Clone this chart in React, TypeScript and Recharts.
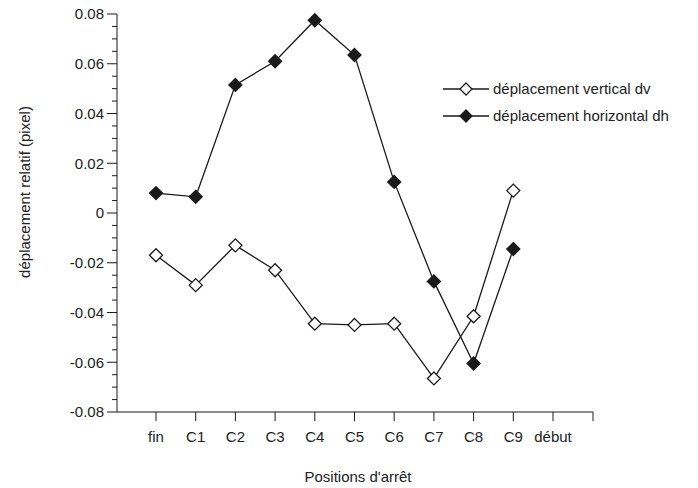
import { LineChart, Line, XAxis, YAxis, Legend, Label } from 'recharts';

const positions = ['fin', 'C1', 'C2', 'C3', 'C4', 'C5', 'C6', 'C7', 'C8', 'C9', 'début'];
const dv = [-0.017, -0.029, -0.013, -0.023, -0.0445, -0.045, -0.0445, -0.0665, -0.0415, 0.009, null];
const dh = [0.008, 0.0065, 0.0515, 0.061, 0.0775, 0.0635, 0.0125, -0.0275, -0.0605, -0.0145, null];
const majorTicks = [-0.08, -0.06, -0.04, -0.02, 0, 0.02, 0.04, 0.06, 0.08];

// minor ticks every 0.005 between the labelled ones
const yTicks = majorTicks.flatMap((m, i) =>
  i === majorTicks.length - 1 ? [m] : [0, 0.005, 0.01, 0.015].map((d) => Number((m + d).toFixed(3)))
);

const data = positions.map((pos, i) => ({ pos, dv: dv[i], dh: dh[i] }));

const FONT = '"Liberation Sans", Arial, sans-serif';
const INK = '#1a1a1a';

const diamond = (cx: number, cy: number, r: number) =>
  `M${cx},${cy - r} L${cx + r},${cy} L${cx},${cy + r} L${cx - r},${cy} Z`;

const makeDot = (fill: string) => (props: any) => {
  const { cx, cy, index } = props;
  if (cx == null || cy == null || props.value == null) return <g key={index} />;
  return <path key={index} d={diamond(cx, cy, 6.5)} fill={fill} stroke={INK} strokeWidth={1.3} />;
};

const YTick = (props: any) => {
  const { x, y, payload } = props;
  const v = payload.value;
  const major = majorTicks.some((m) => Math.abs(m - v) < 1e-9);
  return (
    <g>
      <line x1={x - (major ? 10 : 5)} x2={x} y1={y} y2={y} stroke={INK} strokeWidth={1} />
      {major && (
        <text x={x - 13} y={y} dy="0.36em" textAnchor="end" fontSize={15} fontFamily={FONT} fill="#222">
          {String(v)}
        </text>
      )}
    </g>
  );
};

const series = [
  { key: 'dv', name: 'déplacement vertical dv', fill: '#ffffff' },
  { key: 'dh', name: 'déplacement horizontal dh', fill: INK },
];

const LegendBox = () => (
  <div style={{ fontFamily: FONT, fontSize: 15, color: '#222' }}>
    {series.map((s) => (
      <div key={s.key} style={{ display: 'flex', alignItems: 'center', height: 27 }}>
        <svg width={46} height={16}>
          <line x1={0} x2={46} y1={8} y2={8} stroke={INK} strokeWidth={1.3} />
          <path d={diamond(23, 8, 6)} fill={s.fill} stroke={INK} strokeWidth={1.3} />
        </svg>
        <span style={{ marginLeft: 4, whiteSpace: 'nowrap' }}>{s.name}</span>
      </div>
    ))}
  </div>
);

export default function App() {
  return (
    <div style={{ position: 'absolute', left: 0, top: 0, background: '#fff' }}>
      <LineChart width={698} height={488} data={data} margin={{ top: 14, right: 105, bottom: 46, left: 57 }}>
        <XAxis
          dataKey="pos"
          padding={{ left: 39, right: 40 }}
          height={30}
          tickSize={9}
          tickMargin={10}
          axisLine={{ stroke: INK }}
          tickLine={{ stroke: INK }}
          tick={{ fontSize: 15, fontFamily: FONT, fill: '#222' }}
          interval={0}
        >
          <Label
            content={() => (
              <g>
                {/* closing tick at the right end of the axis */}
                <line x1={593} x2={593} y1={412} y2={421} stroke={INK} />
                <text x={358} y={477} dy="0.36em" textAnchor="middle" fontSize={15} fontFamily={FONT} fill="#222">
                  Positions d'arrêt
                </text>
              </g>
            )}
          />
        </XAxis>
        <YAxis
          type="number"
          domain={[-0.08, 0.08]}
          ticks={yTicks}
          interval={0}
          width={60}
          tickSize={0}
          tickMargin={0}
          tickLine={false}
          axisLine={{ stroke: INK }}
          tick={<YTick />}
        >
          <Label
            content={() => (
              <text
                x={25}
                y={192}
                transform="rotate(-90 25 192)"
                dy="0.36em"
                textAnchor="middle"
                fontSize={15}
                fontFamily={FONT}
                fill="#222"
              >
                déplacement relatif (pixel)
              </text>
            )}
          />
        </YAxis>
        <Legend
          layout="horizontal"
          verticalAlign="middle"
          align="center"
          content={<LegendBox />}
          wrapperStyle={{ left: 443, top: 75, width: 'auto' }}
        />
        <Line
          dataKey="dv"
          name="déplacement vertical dv"
          stroke={INK}
          strokeWidth={1.3}
          dot={makeDot('#ffffff')}
          isAnimationActive={false}
        />
        <Line
          dataKey="dh"
          name="déplacement horizontal dh"
          stroke={INK}
          strokeWidth={1.3}
          dot={makeDot(INK)}
          isAnimationActive={false}
        />
      </LineChart>
    </div>
  );
}
